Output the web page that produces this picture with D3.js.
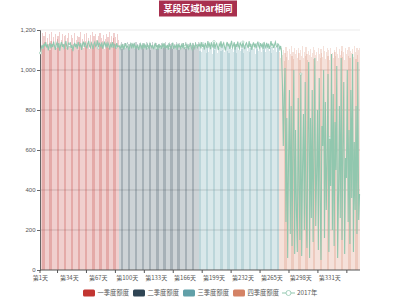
<!DOCTYPE html>
<html>
<head>
<meta charset="utf-8">
<script src="https://cdn.jsdelivr.net/npm/d3@7"></script>
<style>
  body { margin: 0; background: #fff; }
  svg { display: block; font-family: "Noto Sans CJK SC", "Noto Sans", sans-serif; }
</style>
</head>
<body>
<div id="canvas"></div>
<script>
// quarters
var quarters = ['一季度额度', '二季度额度', '三季度额度', '四季度额度'];
var quarterColors = ['#c23531', '#2f4554', '#61a0a8', '#d48265'];
var lineName = '2017年';
var lineColor = '#91c7ae';

// bar values per quarter
var q1Bar = [1150,1120,1185,1105,1170,1140,1190,1110,1160,1130,
  1178,1102,1145,1188,1115,1165,1125,1180,1108,1155,
  1172,1135,1190,1118,1148,1182,1104,1168,1128,1176,
  1112,1158,1186,1122,1142,1174,1106,1162,1132,1184,
  1116,1152,1170,1100,1166,1138,1188,1124,1156,1110,
  1178,1146,1120,1184,1134,1162,1106,1174,1142,1190,
  1114,1168,1128,1180,1150,1108,1172,1136,1186,1118,
  1160,1144,1176,1104,1154,1182,1126,1164,1112,1188,
  1140,1170,1120,1158,1184,1132,1166,1110,1178,1150];
var q2Bar = [1125,1110,1138,1104,1130,1118,1135,1108,1128,1140,
  1112,1132,1102,1126,1137,1115,1130,1106,1122,1139,
  1114,1128,1100,1134,1120,1110,1136,1124,1105,1131,
  1117,1138,1108,1127,1113,1133,1101,1123,1140,1116,
  1129,1107,1135,1119,1126,1103,1132,1111,1137,1121,
  1109,1130,1115,1139,1104,1125,1134,1112,1128,1118,
  1136,1106,1122,1131,1110,1140,1116,1127,1102,1133,
  1120,1108,1135,1124,1114,1138,1105,1129,1119,1132,
  1111,1137,1123,1107,1134,1115,1126,1139,1113,1130,1140];
var q3Bar = [1120,1095,1132,1088,1110,1138,1100,1125,1084,1116,
  1136,1092,1128,1105,1140,1082,1118,1130,1098,1112,
  1134,1086,1122,1108,1138,1094,1126,1102,1131,1090,
  1114,1137,1097,1124,1085,1119,1133,1104,1127,1091,
  1139,1109,1121,1087,1129,1101,1135,1093,1117,1106,
  1132,1083,1123,1113,1140,1096,1126,1089,1111,1136,
  1099,1130,1107,1118,1081,1134,1103,1124,1094,1138,
  1115,1088,1128,1100,1121,1133,1092,1119,1106,1137,
  1097,1125,1110,1084,1131,1102,1127,1116,1090,1135,1108,1122];
var q4Bar = [1090,1060,1110,1075,1100,1045,1085,1115,1065,1095,
  1050,1105,1080,1120,1070,1088,1055,1112,1078,1098,
  1062,1108,1083,1048,1102,1072,1118,1058,1092,1068,
  1114,1082,1052,1096,1076,1106,1064,1086,1116,1054,
  1100,1074,1090,1046,1110,1080,1060,1104,1084,1066,
  1118,1094,1056,1088,1108,1070,1098,1050,1112,1078,
  1086,1062,1102,1092,1068,1116,1082,1058,1106,1074,
  1096,1120,1064,1090,1052,1110,1080,1100,1072,1114,
  1060,1094,1084,1104,1066,1118,1088,1056,1108,1076,1098,1112];

// line values per quarter
var q1Line = [1085,1110,1125,1105,1132,1118,1140,1112,1128,1098,
  1122,1136,1108,1130,1115,1142,1120,1100,1126,1138,
  1112,1134,1096,1124,1140,1116,1130,1104,1128,1145,
  1118,1102,1132,1122,1138,1110,1126,1094,1120,1136,
  1114,1130,1106,1140,1124,1118,1134,1100,1128,1142,
  1116,1138,1122,1108,1132,1146,1120,1112,1136,1126,
  1104,1130,1140,1118,1124,1148,1110,1134,1128,1116,
  1138,1106,1126,1142,1120,1132,1112,1136,1124,1102,
  1128,1118,1140,1110,1130,1122,1106,1134,1116,1120];
var q2Line = [1118,1106,1124,1112,1130,1102,1120,1134,1110,1126,
  1114,1098,1122,1132,1108,1128,1116,1136,1104,1120,
  1112,1126,1100,1118,1130,1110,1124,1106,1134,1114,
  1122,1102,1128,1116,1108,1132,1120,1112,1126,1104,
  1118,1136,1110,1124,1100,1130,1114,1120,1106,1128,
  1116,1134,1108,1122,1112,1126,1102,1130,1118,1110,
  1124,1136,1106,1120,1114,1128,1100,1132,1116,1122,
  1108,1126,1112,1134,1104,1118,1130,1110,1124,1106,
  1120,1136,1114,1102,1128,1118,1108,1132,1122,1112,1126];
var q3Line = [1120,1132,1108,1140,1115,1128,1102,1136,1122,1110,
  1145,1118,1130,1104,1138,1124,1112,1142,1106,1126,
  1134,1116,1100,1130,1120,1144,1110,1128,1136,1114,
  1098,1124,1140,1118,1132,1106,1126,1146,1112,1122,
  1138,1102,1130,1116,1142,1120,1108,1134,1126,1112,
  1140,1118,1104,1128,1136,1122,1110,1144,1116,1130,
  1100,1124,1138,1114,1132,1108,1126,1142,1120,1110,
  1134,1118,1128,1104,1140,1122,1112,1136,1116,1130,
  1106,1124,1144,1118,1132,1110,1126,1140,1120,1114,1130,1124];
var q4Line = [1105,1120,1090,930,620,880,1010,240,760,60,
  560,900,180,820,120,640,1000,80,700,300,
  90,860,420,150,980,70,520,780,200,940,
  340,110,680,1040,60,760,260,900,140,580,
  1060,220,480,800,100,960,380,50,720,620,
  1000,160,840,300,540,980,90,660,420,1080,
  200,880,120,740,500,1020,60,380,820,260,
  1060,150,620,940,80,560,460,1000,240,700,
  130,900,360,1080,90,640,300,820,180,1040,250,380];

var yTicks = [0, 200, 400, 600, 800, 1000, 1200];
var labelStep = 33;

var barQuarters = [q1Bar, q2Bar, q3Bar, q4Bar];
var lineQuarters = [q1Line, q2Line, q3Line, q4Line];

// flatten into day rows
var days = [];
barQuarters.forEach(function(arr, qi){
  arr.forEach(function(v, j){
    days.push({ q: qi, bar: v, line: lineQuarters[qi][j] });
  });
});
days.forEach(function(d, i){ d.i = i; d.name = '第' + (i + 1) + '天'; });

var W = 400, H = 300;
var m = {t:30, r:40, b:30, l:40},
    w = W - m.l - m.r,
    h = H - m.t - m.b;

var svg = d3.select('#canvas').append('svg')
  .attr('width', W).attr('height', H);

// title
var title = svg.append('g');
title.append('rect')
  .attr('x', 159).attr('y', 0.5).attr('width', 78).attr('height', 16)
  .attr('fill', '#a8304f');
title.append('text')
  .attr('x', 198).attr('y', 12)
  .attr('text-anchor', 'middle')
  .attr('fill', '#fff').attr('font-size', 9).attr('font-weight', 'bold')
  .text('某段区域bar相同');

var plot = svg.append('g').attr('transform', 'translate(' + m.l + ',' + m.t + ')');

var x = d3.scaleBand().domain(days.map(function(d){ return d.name; })).range([0, w]);
var y = d3.scaleLinear().domain([0, 1200]).range([h, 0]);

// split lines
plot.selectAll('.grid').data(yTicks.slice(1))
  .enter().append('line')
  .attr('x1', 0).attr('x2', w)
  .attr('y1', function(d){ return y(d); }).attr('y2', function(d){ return y(d); })
  .attr('stroke', function(d){ return d === 1200 ? '#e6e6e6' : '#c8c8c8'; })
  .attr('stroke-width', 0.8);

// bars: wider than the band and pixel-snapped, so overlaps come in bands
var barW = x.bandwidth() * 1.35;
plot.selectAll('.bar').data(days)
  .enter().append('rect')
  .attr('x', function(d){ return x(d.name) + (x.bandwidth() - barW) / 2; })
  .attr('width', barW)
  .attr('y', function(d){ return y(d.bar); })
  .attr('height', function(d){ return h - y(d.bar); })
  .attr('fill', function(d){ return quarterColors[d.q]; })
  .attr('fill-opacity', 0.24)
  .attr('shape-rendering', 'crispEdges');

// y axis
var yAxis = plot.append('g')
  .call(d3.axisLeft(y).tickValues(yTicks).tickSize(3).tickFormat(d3.format(',')));
yAxis.select('.domain').attr('stroke', '#666');
yAxis.selectAll('.tick line').attr('stroke', '#666');
yAxis.selectAll('text').attr('fill', '#555').attr('font-size', 6).attr('x', -4.5);

// x axis
var xg = plot.append('g').attr('transform', 'translate(0,' + h + ')');
xg.append('line').attr('x1', 0).attr('x2', w).attr('stroke', '#555');
var tickIdx = d3.range(20, days.length, labelStep);
xg.selectAll('.xt').data([0].concat(tickIdx))
  .enter().append('line')
  .attr('x1', function(i){ return x(days[i].name); })
  .attr('x2', function(i){ return x(days[i].name); })
  .attr('y1', 0).attr('y2', 3)
  .attr('stroke', '#555');
var labelIdx = d3.range(0, 331, labelStep);
xg.selectAll('.xl').data(labelIdx)
  .enter().append('text')
  .attr('x', function(i){ return x(days[i].name) + x.bandwidth() / 2; })
  .attr('y', 10)
  .attr('text-anchor', 'middle')
  .attr('fill', '#555').attr('font-size', 6)
  .text(function(i){ return days[i].name; });

// line
var line = d3.line()
  .x(function(d){ return x(d.name) + x.bandwidth() / 2; })
  .y(function(d){ return y(d.line); });
plot.append('path').datum(days)
  .attr('d', line)
  .attr('fill', 'none')
  .attr('stroke', lineColor)
  .attr('stroke-width', 1.1);

plot.selectAll('.sym').data(labelIdx.map(function(i){ return days[i]; }))
  .enter().append('circle')
  .attr('cx', function(d){ return x(d.name) + x.bandwidth() / 2; })
  .attr('cy', function(d){ return y(d.line); })
  .attr('r', 1.1)
  .attr('fill', '#fff')
  .attr('stroke', lineColor)
  .attr('stroke-width', 0.6);

// legend
var legendItems = quarters.map(function(q, i){ return {name: q, color: quarterColors[i], type: 'rect'}; })
  .concat([{name: lineName, color: lineColor, type: 'line'}]);
var legendX = [83, 133, 183, 233, 282];
var legend = svg.append('g').attr('transform', 'translate(0,293)');
var li = legend.selectAll('.li').data(legendItems)
  .enter().append('g')
  .attr('transform', function(d, i){ return 'translate(' + legendX[i] + ',0)'; });
li.filter(function(d){ return d.type === 'rect'; })
  .append('rect')
  .attr('x', 0).attr('y', -3.5).attr('width', 12).attr('height', 7).attr('rx', 1.5)
  .attr('fill', function(d){ return d.color; });
li.filter(function(d){ return d.type === 'line'; })
  .each(function(d){
    var g = d3.select(this);
    g.append('line').attr('x1', 0).attr('x2', 13).attr('stroke', d.color).attr('stroke-width', 1);
    g.append('circle').attr('cx', 6.5).attr('r', 2.5).attr('fill', '#fff').attr('stroke', d.color).attr('stroke-width', 0.8);
  });
li.append('text')
  .attr('x', function(d){ return d.type === 'rect' ? 14.5 : 15; })
  .attr('y', 2.2)
  .attr('fill', '#555').attr('font-size', 6.3)
  .text(function(d){ return d.name; });
</script>
</body>
</html>
